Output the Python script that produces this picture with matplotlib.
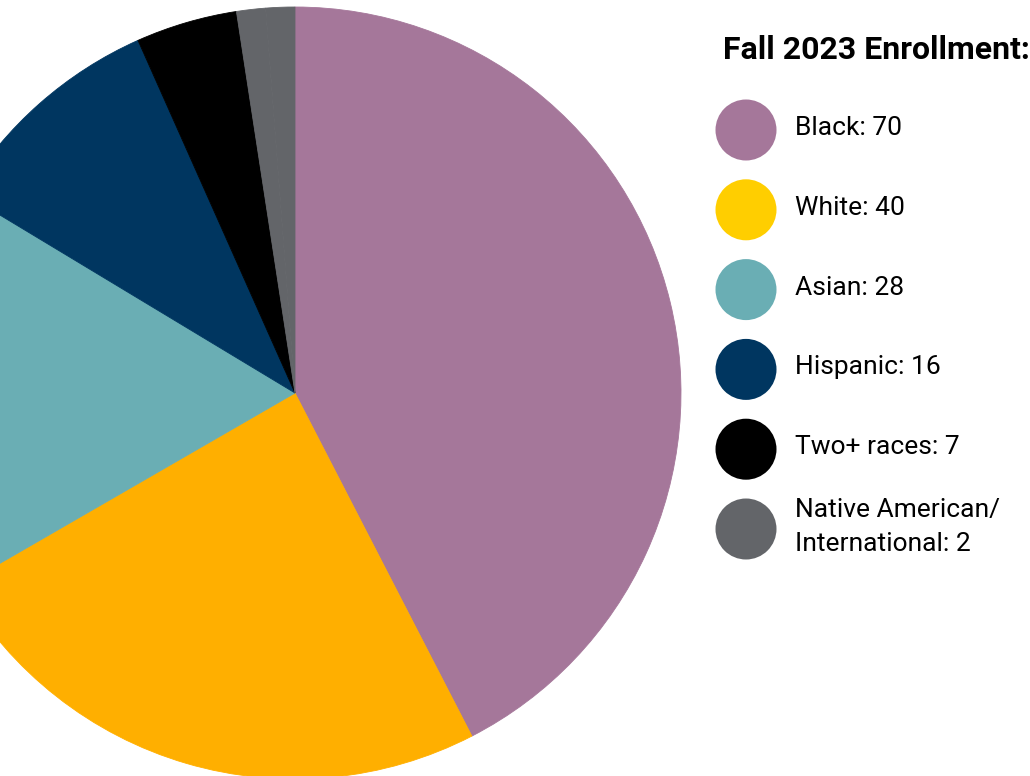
import matplotlib
matplotlib.use("Agg")
import matplotlib.pyplot as plt
from matplotlib.patches import Circle

plt.rcParams['font.family'] = ['Roboto', 'DejaVu Sans']

# Matricula de outono 2023 por raca/etnia
grupos = ['Black', 'White', 'Asian', 'Hispanic', 'Two+ races', 'Native American', 'International']
alunos = [70, 40, 28, 16, 7, 2, 2]
cores_pizza = ['#A5779A', '#FFAF00', '#6AAEB4', '#003660', '#000000', '#636569', '#636569']

# legenda (Native American e International juntos numa linha so)
legenda_textos = ['Black: 70', 'White: 40', 'Asian: 28', 'Hispanic: 16', 'Two+ races: 7',
                  'Native American/\nInternational: 2']
legenda_cores = ['#A5779A', '#FFCE00', '#6AAEB4', '#003660', '#000000', '#636569']

W, H = 1030, 776
fig = plt.figure(figsize=(W / 100, H / 100), dpi=100)

# pizza grande, cortada na esquerda e embaixo
cx, cy, r = 295, 393, 386
ax = fig.add_axes([(cx - r) / W, (H - cy - r) / H, 2 * r / W, 2 * r / H])
fatias, _ = ax.pie(alunos, colors=cores_pizza, startangle=90, counterclock=False,
                   wedgeprops={'linewidth': 0.6}, radius=1)
for f in fatias:
    f.set_edgecolor(f.get_facecolor())  # sem linha clara entre as fatias
ax.set_xlim(-1, 1)
ax.set_ylim(-1, 1)
ax.set_aspect('equal')
ax.axis('off')

# eixo por cima em pixels para a legenda
leg = fig.add_axes([0, 0, 1, 1])
leg.set_xlim(0, W)
leg.set_ylim(H, 0)
leg.axis('off')

leg.text(723, 50, 'Fall 2023 Enrollment:', fontsize=23, fontweight='bold',
         va='center', ha='left', color='black')

y0, passo = 130, 79.8
for i, (txt, cor) in enumerate(zip(legenda_textos, legenda_cores)):
    y = y0 + i * passo
    leg.add_patch(Circle((746, y), 30.5, color=cor, lw=0))
    leg.text(795, y - 2, txt, fontsize=19, va='center', ha='left',
             color='black', linespacing=1.55)

fig.savefig('out.png', dpi=100)
